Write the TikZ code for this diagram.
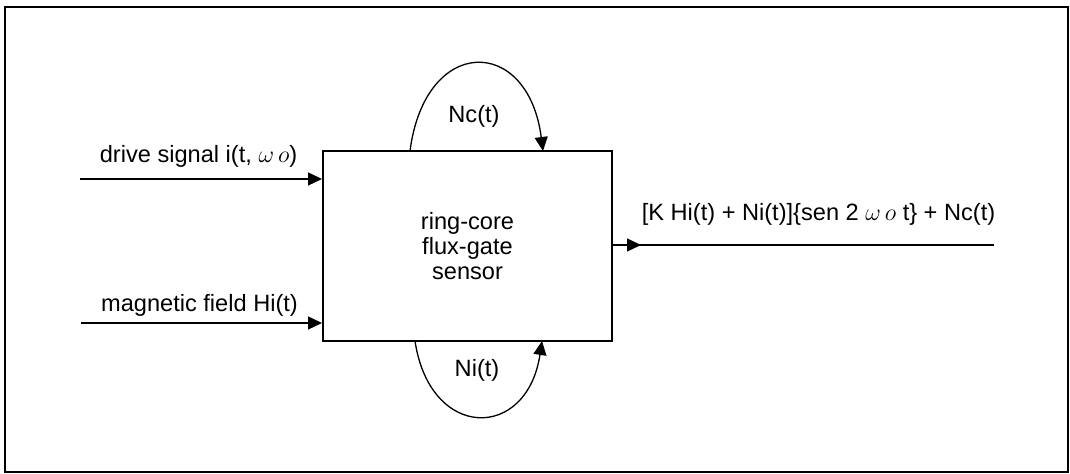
\documentclass[tikz,border=0pt]{standalone}
\usepackage{fontspec}
\setmainfont{Liberation Sans}
\usetikzlibrary{positioning, arrows.meta, calc}

\begin{document}
\begin{tikzpicture}[
    x=0.5pt, y=-0.5pt,
    every node/.style={font=\fontsize{11.8}{12.5}\selectfont, inner sep=0pt},
    sensorbox/.style={draw, line width=1pt, minimum width=144.5pt, minimum height=95pt, align=center},
    arrow/.style={-{Triangle[length=7pt, width=6.5pt]}, line width=0.65pt},
    wire/.style={line width=0.65pt},
    lbl/.style={anchor=base},
  ]

  % ---- frame ----
  \useasboundingbox (0,0) rectangle (1070,474);
  \draw[line width=1pt] (5,7) rectangle (1068,472);

  % ---- sensor ----
  \node[sensorbox] (sensor) at (467.5,246) {ring-core\\flux-gate\\sensor};

  % ---- inputs ----
  \coordinate (drivein) at (80,179);
  \coordinate (fieldin) at (81,323);
  \draw[arrow] (drivein) -- (sensor.west |- drivein);
  \draw[arrow] (fieldin) -- (sensor.west |- fieldin);
  \node[lbl] (drivelbl) at (198.5,163) {drive signal i(t, $\omega\,o$)};
  \node[lbl] (fieldlbl) at (199.5,312) {magnetic field Hi(t)};

  % ---- output ----
  \coordinate (outend) at (994,245);
  \draw[wire] (sensor.east |- outend) -- (outend);
  \draw[arrow] (sensor.east |- outend) -- ++(28,0);
  \node[lbl] (outlbl) at (818.5,221) {[K Hi(t) + Ni(t)]\{sen 2 $\omega\,o$ t\} + Nc(t)};

  % ---- noise loops ----
  \coordinate (ncstart) at (410,151);
  \coordinate (ncend) at (543,151);
  \draw[arrow] (ncstart) .. controls +(15,-116) and +(-15,-116) .. (ncend);
  \node[lbl] (nclbl) at (474,123) {Nc(t)};

  \coordinate (nistart) at (415,341);
  \coordinate (niend) at (542,341);
  \draw[arrow] (nistart) .. controls +(15,100) and +(-15,100) .. (niend);
  \node[lbl] (nilbl) at (477,377) {Ni(t)};

\end{tikzpicture}
\end{document}
